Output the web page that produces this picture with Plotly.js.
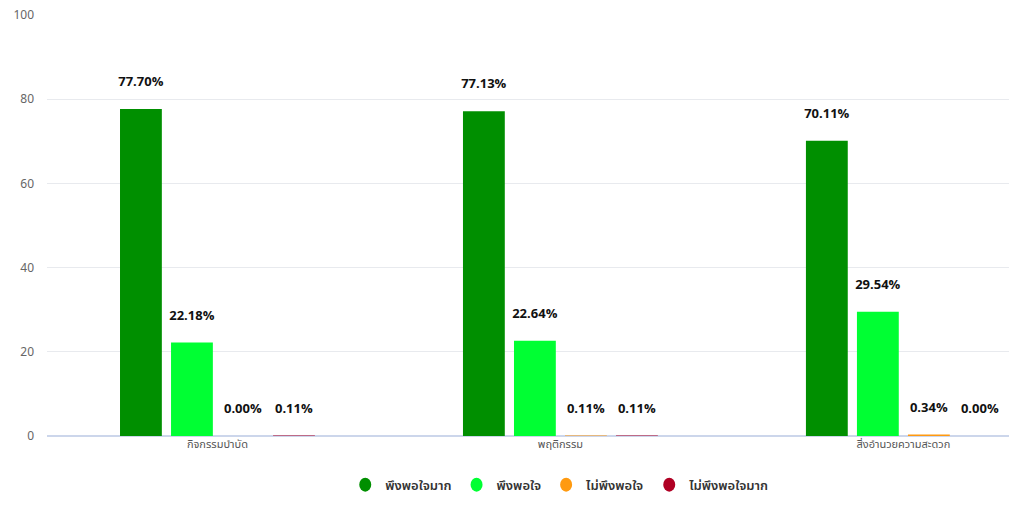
<!DOCTYPE html>
<html>
<head>
<meta charset="utf-8">
<script src="https://cdn.plot.ly/plotly-3.0.1.min.js"></script>
<style>html,body{margin:0;padding:0;background:#fff;}#chart{width:1009px;height:512px;}</style>
</head>
<body>
<div id="chart"></div>
<script>
const categories = ["กิจกรรมบำบัด", "พฤติกรรม", "สิ่งอำนวยความสะดวก"];
const seriesNames = ["พึงพอใจมาก", "พึงพอใจ", "ไม่พึงพอใจ", "ไม่พึงพอใจมาก"];
const veryLikely = [77.70, 77.13, 70.11];
const satisfied = [22.18, 22.64, 29.54];
const unsatisfied = [0.00, 0.11, 0.34];
const veryUnsatisfied = [0.11, 0.11, 0.00];
const yTicks = [0, 20, 40, 60, 80, 100];
const colors = ["#008f00", "#00ff33", "#ff9a10", "#b00024"];

const fontFam = "'Noto Sans Thai', 'Noto Sans', 'DejaVu Sans', sans-serif";
const values = [veryLikely, satisfied, unsatisfied, veryUnsatisfied];
const traces = values.map((v, i) => ({
  type: 'bar',
  name: seriesNames[i],
  x: categories,
  y: v,
  marker: {color: colors[i]},
  text: v.map(d => d.toFixed(2) + '%'),
  texttemplate: '%{text}<br><span style="font-size:7px"> </span>',
  textposition: 'outside',
  constraintext: 'none',
  cliponaxis: false,
  textfont: {family: fontFam, size: 13, color: '#111', weight: 'bold'},
  hoverinfo: 'x+y+name'
}));

const layout = {
  width: 1009, height: 512,
  margin: {l: 47, r: 0, t: 15, b: 76},
  paper_bgcolor: '#fff', plot_bgcolor: '#fff',
  barmode: 'group',
  bargap: 0.405,
  bargroupgap: 0.18,
  font: {family: fontFam},
  xaxis: {
    range: [-0.497, 2.308],
    showgrid: false,
    showline: false,
    ticks: '',
    tickfont: {size: 11, color: '#555'},
    fixedrange: true
  },
  yaxis: {
    range: [0, 100],
    tickvals: yTicks,
    gridcolor: '#e8eaee',
    zeroline: true,
    zerolinecolor: '#ccd6eb',
    zerolinewidth: 2,
    showline: false,
    ticks: '',
    ticklabelstandoff: 12,
    tickfont: {size: 12, color: '#666'},
    fixedrange: true
  },
  showlegend: true,
  legend: {
    orientation: 'h',
    x: 0.533, xanchor: 'center',
    y: -0.08, yanchor: 'top',
    font: {size: 13, color: '#333', weight: 600},
    itemsizing: 'constant',
    traceorder: 'normal'
  }
};

Plotly.newPlot('chart', traces, layout, {displayModeBar: false, staticPlot: true}).then(() => {
  document.querySelectorAll('.legendpoints path').forEach(p => {
    p.setAttribute('d', 'M6,0A6,7 0 1,1 -6,0A6,7 0 1,1 6,0Z');
    p.style.strokeWidth = '0';
  });
});
</script>
</body>
</html>
